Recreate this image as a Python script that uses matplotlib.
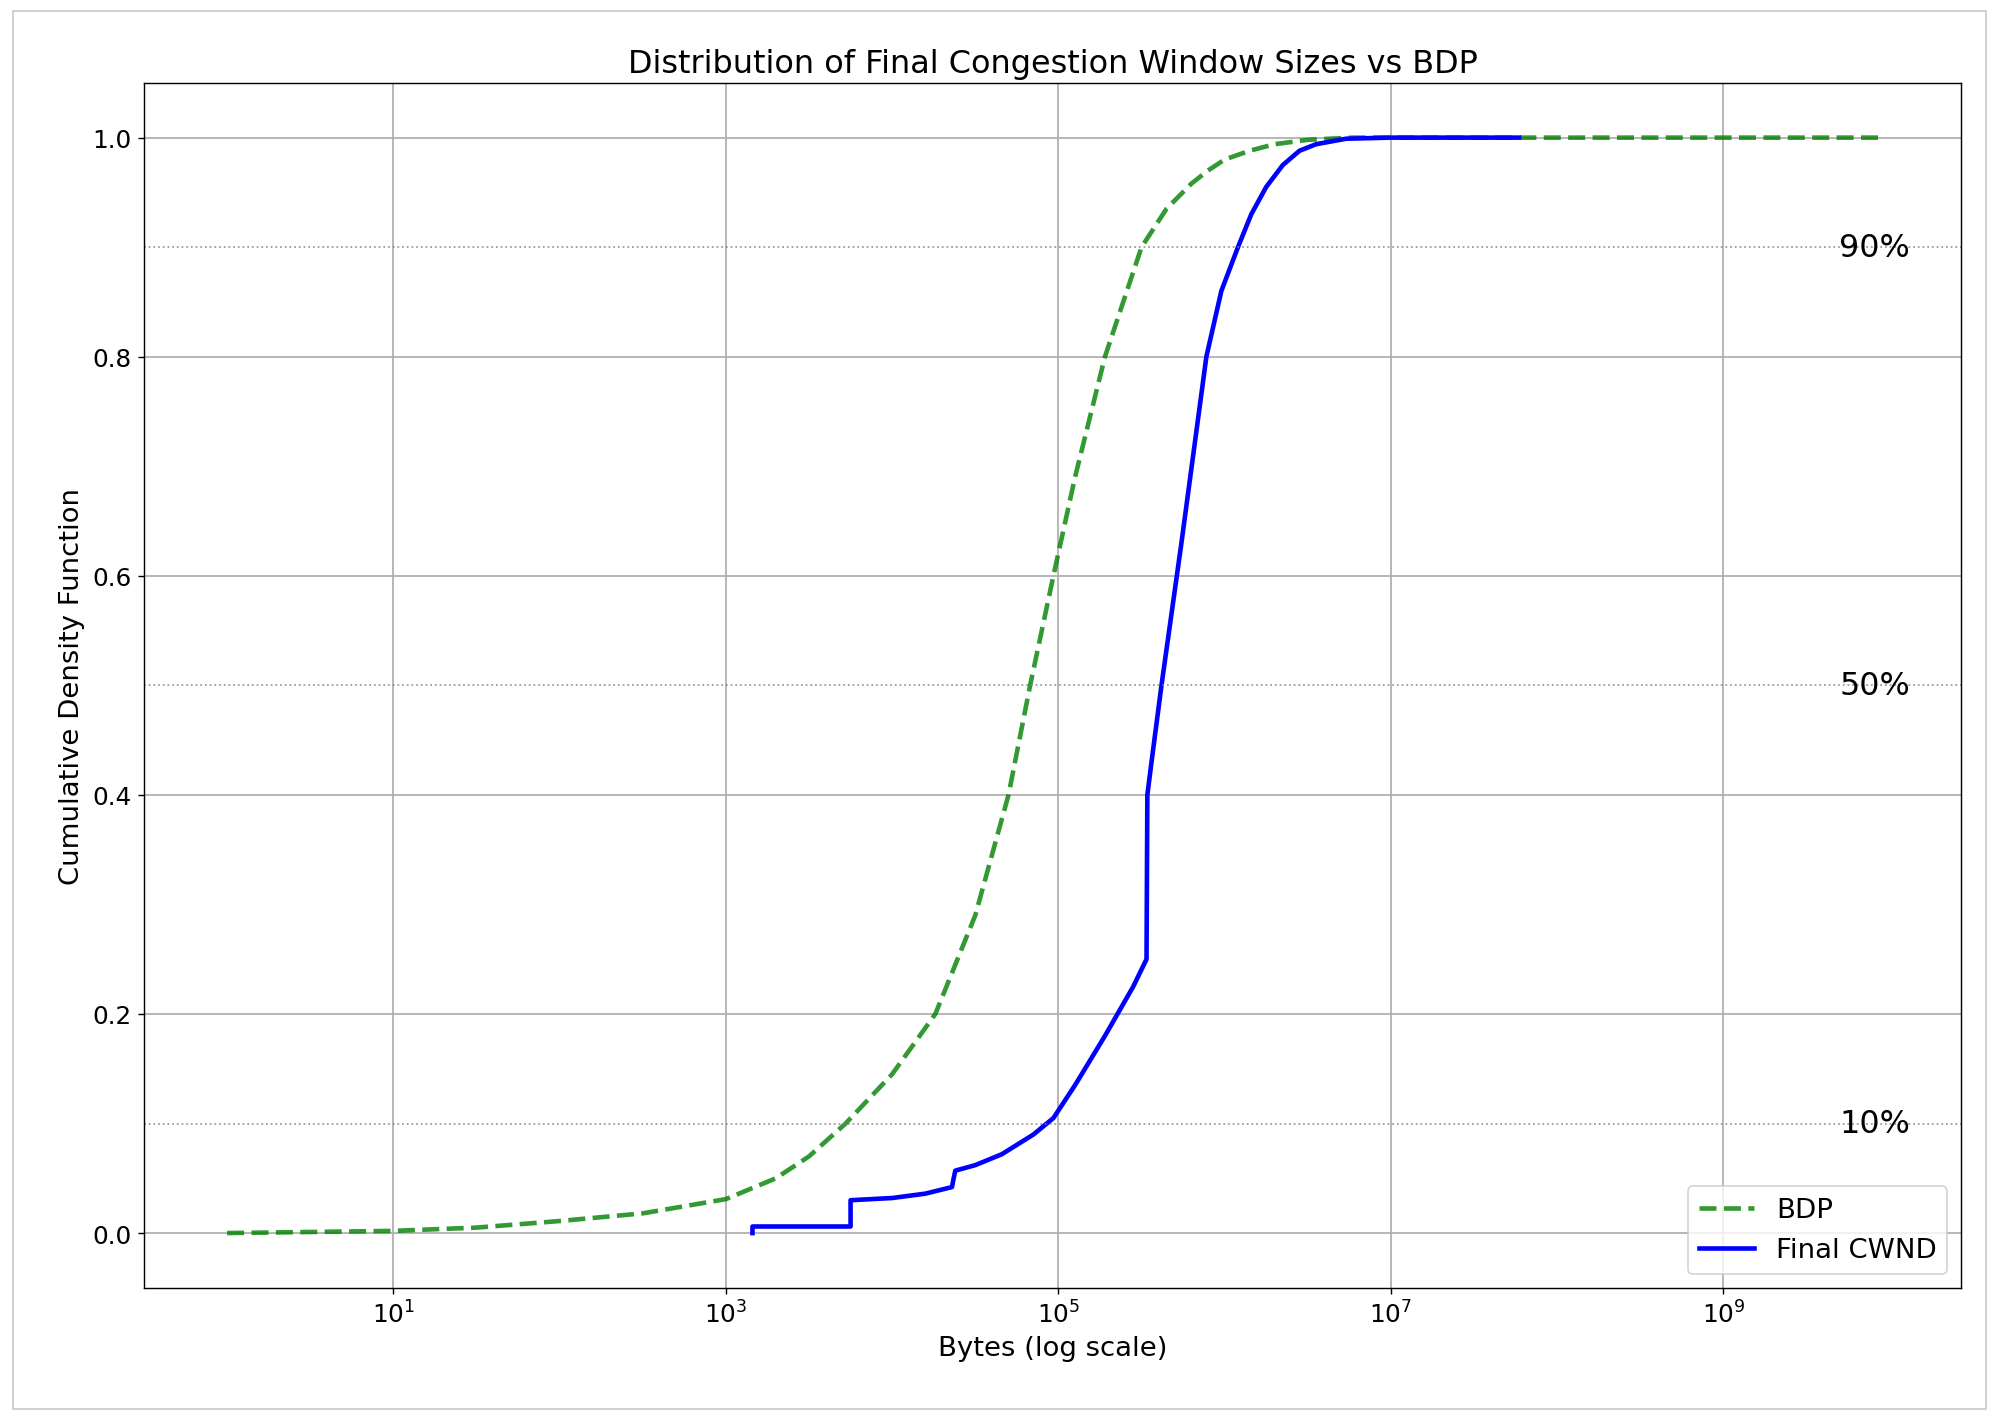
import numpy as np
import matplotlib
matplotlib.use("Agg")
import matplotlib.pyplot as plt
from matplotlib.patches import Rectangle

# CDF points (log10 bytes, cumulative fraction)
bdp_log = [0.0, 0.5, 1.0, 1.5, 2.0, 2.5, 3.0, 3.3, 3.5, 3.72, 4.0, 4.26, 4.5, 4.7, 4.83,
           4.97, 5.1, 5.28, 5.5, 5.65, 5.8, 5.9, 6.0, 6.15, 6.3, 6.5, 6.77, 8.0, 9.95]
bdp_cdf = [0.0, 0.001, 0.002, 0.005, 0.011, 0.018, 0.031, 0.05, 0.07, 0.10, 0.145, 0.20,
           0.29, 0.40, 0.50, 0.60, 0.69, 0.80, 0.90, 0.935, 0.958, 0.97, 0.98, 0.988, 0.994,
           0.998, 1.0, 1.0, 1.0]

cwnd_log = [3.16, 3.16, 3.75, 3.75, 4.0, 4.2, 4.36, 4.37, 4.38, 4.5, 4.66, 4.85, 4.97, 5.1,
            5.28, 5.45, 5.53, 5.535, 5.56, 5.62, 5.74, 5.89, 5.98, 6.08, 6.16, 6.25, 6.35,
            6.45, 6.55, 6.73, 7.0, 7.77]
cwnd_cdf = [0.0, 0.006, 0.006, 0.030, 0.032, 0.036, 0.042, 0.050, 0.057, 0.062, 0.072, 0.09,
            0.105, 0.135, 0.18, 0.225, 0.25, 0.40, 0.43, 0.50, 0.63, 0.80, 0.86, 0.90, 0.93,
            0.955, 0.975, 0.988, 0.994, 0.999, 1.0, 1.0]

pct_levels = [0.1, 0.5, 0.9]
pct_labels = ["10%", "50%", "90%"]

fig = plt.figure(figsize=(15.68, 11.145), dpi=127.5)
fig.patches.append(Rectangle((0.0064, 0.0075), 0.9872, 0.9838, transform=fig.transFigure,
                             fill=False, edgecolor="#cccccc", lw=1))
ax = fig.add_axes([0.072, 0.093, 0.909, 0.848])

ax.plot(10 ** np.array(bdp_log), bdp_cdf, "--", color="green", alpha=0.8, lw=2.6, label="BDP")
ax.plot(10 ** np.array(cwnd_log), cwnd_cdf, "-", color="blue", lw=2.6, label="Final CWND")

for lvl, lab in zip(pct_levels, pct_labels):
    ax.axhline(lvl, color="gray", ls=":", lw=1, alpha=0.8)
    ax.text(10 ** 9.91, lvl, lab, ha="center", va="center", fontsize=18)

ax.set_xscale("log")
ax.set_xlim(10 ** -0.5, 10 ** 10.43)
ax.set_ylim(-0.05, 1.05)
ax.set_xlabel("Bytes (log scale)", fontsize=15.5)
ax.set_ylabel("Cumulative Density Function", fontsize=15.5)
ax.set_title("Distribution of Final Congestion Window Sizes vs BDP", fontsize=18)
ax.tick_params(labelsize=14)
ax.grid(True, color="#b0b0b0", lw=1)
ax.legend(loc="lower right", fontsize=15.5)

fig.savefig("out.png", dpi=127.5)
